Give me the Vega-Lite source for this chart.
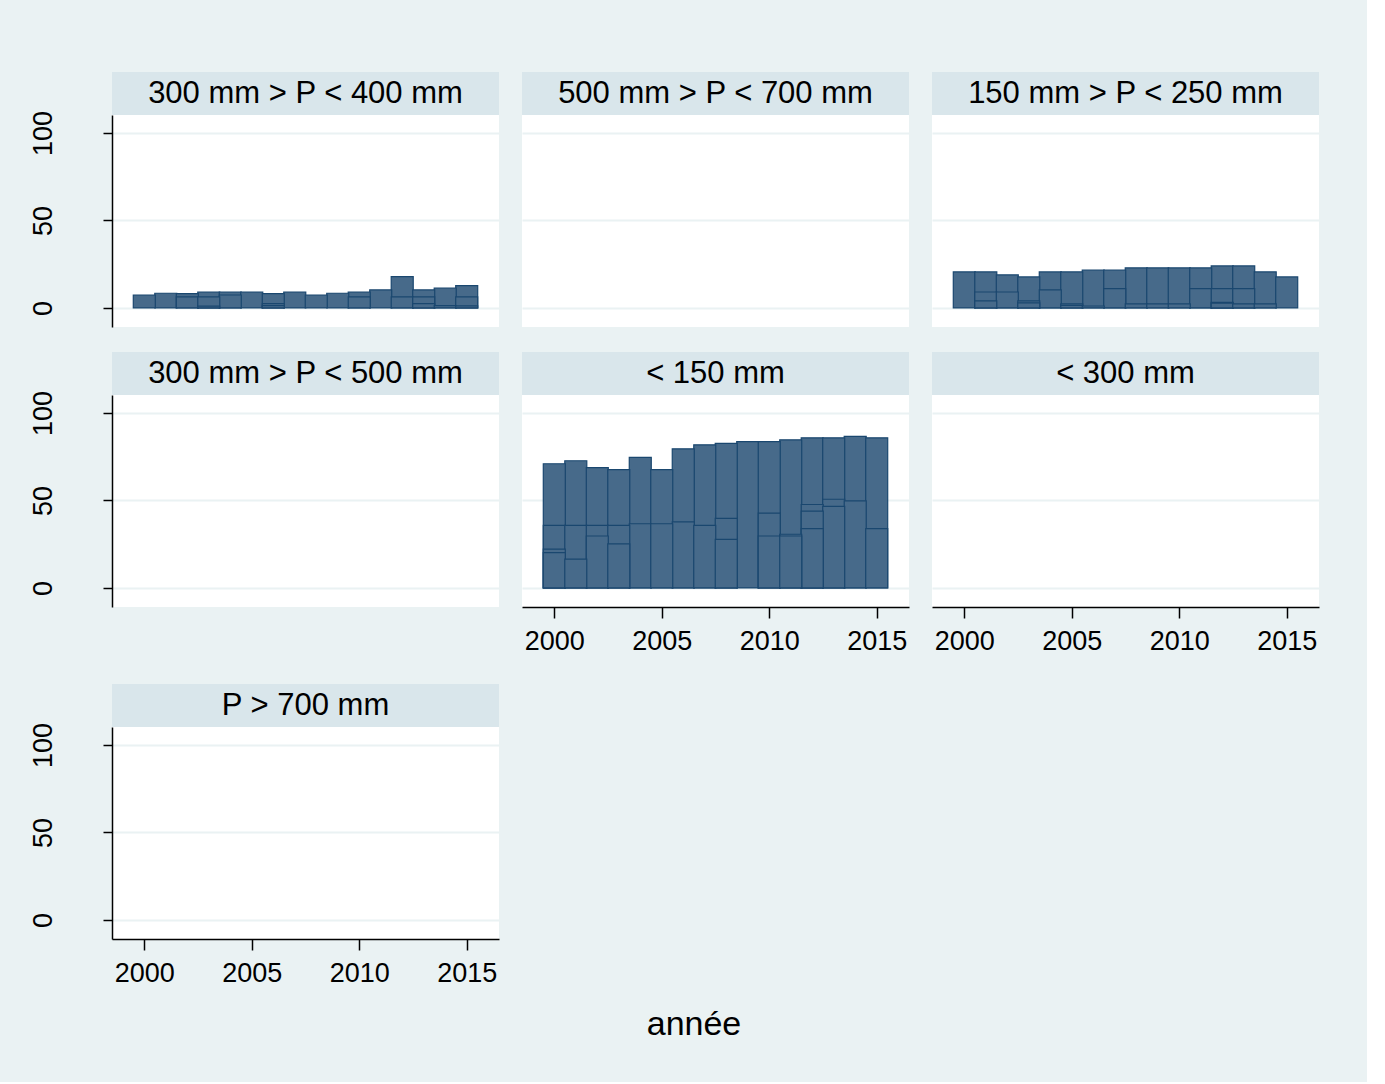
{
  "$schema": "https://vega.github.io/schema/vega-lite/v6.json",
  "background": "#EAF2F3",
  "padding": {"left": 28, "top": 72, "right": 48, "bottom": 40},
  "title": {"text": "année", "orient": "bottom", "anchor": "middle", "fontSize": 34, "font": "Liberation Sans", "fontWeight": "normal", "color": "#000000", "offset": 22, "dx": 20},
  "datasets": {
    "bars": [
      {"panel": "300 mm > P < 400 mm", "year": 2000, "value": 7.4},
      {"panel": "300 mm > P < 400 mm", "year": 2001, "value": 8.4},
      {"panel": "300 mm > P < 400 mm", "year": 2002, "value": 8.2},
      {"panel": "300 mm > P < 400 mm", "year": 2002, "value": 6.3},
      {"panel": "300 mm > P < 400 mm", "year": 2003, "value": 9.1},
      {"panel": "300 mm > P < 400 mm", "year": 2003, "value": 6.3},
      {"panel": "300 mm > P < 400 mm", "year": 2003, "value": 1.0},
      {"panel": "300 mm > P < 400 mm", "year": 2004, "value": 9.1},
      {"panel": "300 mm > P < 400 mm", "year": 2004, "value": 7.4},
      {"panel": "300 mm > P < 400 mm", "year": 2005, "value": 9.1},
      {"panel": "300 mm > P < 400 mm", "year": 2006, "value": 8.2},
      {"panel": "300 mm > P < 400 mm", "year": 2006, "value": 2.5},
      {"panel": "300 mm > P < 400 mm", "year": 2006, "value": 1.3},
      {"panel": "300 mm > P < 400 mm", "year": 2007, "value": 9.1},
      {"panel": "300 mm > P < 400 mm", "year": 2008, "value": 7.4},
      {"panel": "300 mm > P < 400 mm", "year": 2009, "value": 8.4},
      {"panel": "300 mm > P < 400 mm", "year": 2010, "value": 9.1},
      {"panel": "300 mm > P < 400 mm", "year": 2010, "value": 6.3},
      {"panel": "300 mm > P < 400 mm", "year": 2011, "value": 10.3},
      {"panel": "300 mm > P < 400 mm", "year": 2012, "value": 17.9},
      {"panel": "300 mm > P < 400 mm", "year": 2012, "value": 6.3},
      {"panel": "300 mm > P < 400 mm", "year": 2013, "value": 10.3},
      {"panel": "300 mm > P < 400 mm", "year": 2013, "value": 6.3},
      {"panel": "300 mm > P < 400 mm", "year": 2013, "value": 2.5},
      {"panel": "300 mm > P < 400 mm", "year": 2014, "value": 11.4},
      {"panel": "300 mm > P < 400 mm", "year": 2014, "value": 1.3},
      {"panel": "300 mm > P < 400 mm", "year": 2015, "value": 12.7},
      {"panel": "300 mm > P < 400 mm", "year": 2015, "value": 6.3},
      {"panel": "300 mm > P < 400 mm", "year": 2015, "value": 1.2},
      {"panel": "150 mm > P < 250 mm", "year": 2000, "value": 20.6},
      {"panel": "150 mm > P < 250 mm", "year": 2001, "value": 20.6},
      {"panel": "150 mm > P < 250 mm", "year": 2001, "value": 9.1},
      {"panel": "150 mm > P < 250 mm", "year": 2001, "value": 4.0},
      {"panel": "150 mm > P < 250 mm", "year": 2002, "value": 18.9},
      {"panel": "150 mm > P < 250 mm", "year": 2002, "value": 9.1},
      {"panel": "150 mm > P < 250 mm", "year": 2003, "value": 17.7},
      {"panel": "150 mm > P < 250 mm", "year": 2003, "value": 4.0},
      {"panel": "150 mm > P < 250 mm", "year": 2003, "value": 2.9},
      {"panel": "150 mm > P < 250 mm", "year": 2004, "value": 20.6},
      {"panel": "150 mm > P < 250 mm", "year": 2004, "value": 10.3},
      {"panel": "150 mm > P < 250 mm", "year": 2005, "value": 20.6},
      {"panel": "150 mm > P < 250 mm", "year": 2005, "value": 2.3},
      {"panel": "150 mm > P < 250 mm", "year": 2005, "value": 1.5},
      {"panel": "150 mm > P < 250 mm", "year": 2006, "value": 21.7},
      {"panel": "150 mm > P < 250 mm", "year": 2006, "value": 1.1},
      {"panel": "150 mm > P < 250 mm", "year": 2007, "value": 21.7},
      {"panel": "150 mm > P < 250 mm", "year": 2007, "value": 11.0},
      {"panel": "150 mm > P < 250 mm", "year": 2008, "value": 22.9},
      {"panel": "150 mm > P < 250 mm", "year": 2008, "value": 2.3},
      {"panel": "150 mm > P < 250 mm", "year": 2009, "value": 22.9},
      {"panel": "150 mm > P < 250 mm", "year": 2009, "value": 2.3},
      {"panel": "150 mm > P < 250 mm", "year": 2010, "value": 22.9},
      {"panel": "150 mm > P < 250 mm", "year": 2010, "value": 2.3},
      {"panel": "150 mm > P < 250 mm", "year": 2011, "value": 22.9},
      {"panel": "150 mm > P < 250 mm", "year": 2011, "value": 11.0},
      {"panel": "150 mm > P < 250 mm", "year": 2012, "value": 24.0},
      {"panel": "150 mm > P < 250 mm", "year": 2012, "value": 11.0},
      {"panel": "150 mm > P < 250 mm", "year": 2012, "value": 3.2},
      {"panel": "150 mm > P < 250 mm", "year": 2012, "value": 2.7},
      {"panel": "150 mm > P < 250 mm", "year": 2013, "value": 24.0},
      {"panel": "150 mm > P < 250 mm", "year": 2013, "value": 11.0},
      {"panel": "150 mm > P < 250 mm", "year": 2013, "value": 2.3},
      {"panel": "150 mm > P < 250 mm", "year": 2014, "value": 20.6},
      {"panel": "150 mm > P < 250 mm", "year": 2014, "value": 2.3},
      {"panel": "150 mm > P < 250 mm", "year": 2015, "value": 17.7},
      {"panel": "< 150 mm", "year": 2000, "value": 71.0},
      {"panel": "< 150 mm", "year": 2000, "value": 35.8},
      {"panel": "< 150 mm", "year": 2000, "value": 22.2},
      {"panel": "< 150 mm", "year": 2000, "value": 20.2},
      {"panel": "< 150 mm", "year": 2001, "value": 72.7},
      {"panel": "< 150 mm", "year": 2001, "value": 35.8},
      {"panel": "< 150 mm", "year": 2001, "value": 16.5},
      {"panel": "< 150 mm", "year": 2002, "value": 68.8},
      {"panel": "< 150 mm", "year": 2002, "value": 35.8},
      {"panel": "< 150 mm", "year": 2002, "value": 29.7},
      {"panel": "< 150 mm", "year": 2003, "value": 67.6},
      {"panel": "< 150 mm", "year": 2003, "value": 35.8},
      {"panel": "< 150 mm", "year": 2003, "value": 25.2},
      {"panel": "< 150 mm", "year": 2004, "value": 74.6},
      {"panel": "< 150 mm", "year": 2004, "value": 36.7},
      {"panel": "< 150 mm", "year": 2005, "value": 67.6},
      {"panel": "< 150 mm", "year": 2005, "value": 36.7},
      {"panel": "< 150 mm", "year": 2006, "value": 79.5},
      {"panel": "< 150 mm", "year": 2006, "value": 37.8},
      {"panel": "< 150 mm", "year": 2007, "value": 81.8},
      {"panel": "< 150 mm", "year": 2007, "value": 35.8},
      {"panel": "< 150 mm", "year": 2008, "value": 82.7},
      {"panel": "< 150 mm", "year": 2008, "value": 39.8},
      {"panel": "< 150 mm", "year": 2008, "value": 27.8},
      {"panel": "< 150 mm", "year": 2009, "value": 83.7},
      {"panel": "< 150 mm", "year": 2010, "value": 83.7},
      {"panel": "< 150 mm", "year": 2010, "value": 42.8},
      {"panel": "< 150 mm", "year": 2010, "value": 29.7},
      {"panel": "< 150 mm", "year": 2011, "value": 84.7},
      {"panel": "< 150 mm", "year": 2011, "value": 30.7},
      {"panel": "< 150 mm", "year": 2011, "value": 29.7},
      {"panel": "< 150 mm", "year": 2012, "value": 85.8},
      {"panel": "< 150 mm", "year": 2012, "value": 47.7},
      {"panel": "< 150 mm", "year": 2012, "value": 43.9},
      {"panel": "< 150 mm", "year": 2012, "value": 33.9},
      {"panel": "< 150 mm", "year": 2013, "value": 85.8},
      {"panel": "< 150 mm", "year": 2013, "value": 50.7},
      {"panel": "< 150 mm", "year": 2013, "value": 46.6},
      {"panel": "< 150 mm", "year": 2014, "value": 86.7},
      {"panel": "< 150 mm", "year": 2014, "value": 49.8},
      {"panel": "< 150 mm", "year": 2015, "value": 85.8},
      {"panel": "< 150 mm", "year": 2015, "value": 33.9}
    ]
  },
  "spacing": 30,
  "vconcat": [
    {
      "spacing": 25,
      "vconcat": [
        {
          "spacing": 23,
          "hconcat": [
            {
              "bounds": "flush", "spacing": 0,
              "vconcat": [
                {"width": 387, "height": 43, "view": {"fill": "#D9E6EB", "stroke": null}, "data": {"values": [{"panel": "300 mm > P < 400 mm"}]}, "mark": {"type": "text", "fontSize": 31, "font": "Liberation Sans", "baseline": "middle", "align": "center", "color": "#000000"}, "encoding": {"text": {"field": "panel"}}},
                {"width": 387, "height": 212, "data": {"name": "bars"}, "transform": [{"filter": {"field": "panel", "equal": "300 mm > P < 400 mm"}}],
                  "mark": {"type": "bar", "width": 22, "fill": "#476A8A", "stroke": "#1A476F", "strokeWidth": 1.2},
                  "encoding": {
                    "x": {"field": "year", "type": "quantitative", "scale": {"domain": [1998.73, 2016.27], "nice": false, "zero": false}, "axis": null},
                    "y": {"field": "value", "type": "quantitative", "stack": null, "scale": {"domain": [-10.9, 110.3], "nice": false, "zero": false}, "axis": {"values": [0, 50, 100], "title": null, "grid": true, "labelAngle": -90, "labelAlign": "center", "labelBaseline": "alphabetic", "labelPadding": 52}},
                    "y2": {"datum": 0},
                    "order": {"field": "value", "sort": "descending"}}}
              ]
            },
            {
              "bounds": "flush", "spacing": 0,
              "vconcat": [
                {"width": 387, "height": 43, "view": {"fill": "#D9E6EB", "stroke": null}, "data": {"values": [{"panel": "500 mm > P < 700 mm"}]}, "mark": {"type": "text", "fontSize": 31, "font": "Liberation Sans", "baseline": "middle", "align": "center", "color": "#000000"}, "encoding": {"text": {"field": "panel"}}},
                {"width": 387, "height": 212, "data": {"name": "bars"}, "transform": [{"filter": {"field": "panel", "equal": "500 mm > P < 700 mm"}}],
                  "mark": {"type": "bar", "width": 22, "fill": "#476A8A", "stroke": "#1A476F", "strokeWidth": 1.2},
                  "encoding": {
                    "x": {"field": "year", "type": "quantitative", "scale": {"domain": [1998.73, 2016.27], "nice": false, "zero": false}, "axis": null},
                    "y": {"field": "value", "type": "quantitative", "stack": null, "scale": {"domain": [-10.9, 110.3], "nice": false, "zero": false}, "axis": {"values": [0, 50, 100], "title": null, "grid": true, "labels": false, "ticks": false, "domain": false}},
                    "y2": {"datum": 0},
                    "order": {"field": "value", "sort": "descending"}}}
              ]
            },
            {
              "bounds": "flush", "spacing": 0,
              "vconcat": [
                {"width": 387, "height": 43, "view": {"fill": "#D9E6EB", "stroke": null}, "data": {"values": [{"panel": "150 mm > P < 250 mm"}]}, "mark": {"type": "text", "fontSize": 31, "font": "Liberation Sans", "baseline": "middle", "align": "center", "color": "#000000"}, "encoding": {"text": {"field": "panel"}}},
                {"width": 387, "height": 212, "data": {"name": "bars"}, "transform": [{"filter": {"field": "panel", "equal": "150 mm > P < 250 mm"}}],
                  "mark": {"type": "bar", "width": 22, "fill": "#476A8A", "stroke": "#1A476F", "strokeWidth": 1.2},
                  "encoding": {
                    "x": {"field": "year", "type": "quantitative", "scale": {"domain": [1998.73, 2016.27], "nice": false, "zero": false}, "axis": null},
                    "y": {"field": "value", "type": "quantitative", "stack": null, "scale": {"domain": [-10.9, 110.3], "nice": false, "zero": false}, "axis": {"values": [0, 50, 100], "title": null, "grid": true, "labels": false, "ticks": false, "domain": false}},
                    "y2": {"datum": 0},
                    "order": {"field": "value", "sort": "descending"}}}
              ]
            }
          ]
        },
        {
          "spacing": 23,
          "hconcat": [
            {
              "bounds": "flush", "spacing": 0,
              "vconcat": [
                {"width": 387, "height": 43, "view": {"fill": "#D9E6EB", "stroke": null}, "data": {"values": [{"panel": "300 mm > P < 500 mm"}]}, "mark": {"type": "text", "fontSize": 31, "font": "Liberation Sans", "baseline": "middle", "align": "center", "color": "#000000"}, "encoding": {"text": {"field": "panel"}}},
                {"width": 387, "height": 212, "data": {"name": "bars"}, "transform": [{"filter": {"field": "panel", "equal": "300 mm > P < 500 mm"}}],
                  "mark": {"type": "bar", "width": 22, "fill": "#476A8A", "stroke": "#1A476F", "strokeWidth": 1.2},
                  "encoding": {
                    "x": {"field": "year", "type": "quantitative", "scale": {"domain": [1998.73, 2016.27], "nice": false, "zero": false}, "axis": null},
                    "y": {"field": "value", "type": "quantitative", "stack": null, "scale": {"domain": [-10.9, 110.3], "nice": false, "zero": false}, "axis": {"values": [0, 50, 100], "title": null, "grid": true, "labelAngle": -90, "labelAlign": "center", "labelBaseline": "alphabetic", "labelPadding": 52}},
                    "y2": {"datum": 0},
                    "order": {"field": "value", "sort": "descending"}}}
              ]
            },
            {
              "bounds": "flush", "spacing": 0,
              "vconcat": [
                {"width": 387, "height": 43, "view": {"fill": "#D9E6EB", "stroke": null}, "data": {"values": [{"panel": "< 150 mm"}]}, "mark": {"type": "text", "fontSize": 31, "font": "Liberation Sans", "baseline": "middle", "align": "center", "color": "#000000"}, "encoding": {"text": {"field": "panel"}}},
                {"width": 387, "height": 212, "data": {"name": "bars"}, "transform": [{"filter": {"field": "panel", "equal": "< 150 mm"}}],
                  "mark": {"type": "bar", "width": 22, "fill": "#476A8A", "stroke": "#1A476F", "strokeWidth": 1.2},
                  "encoding": {
                    "x": {"field": "year", "type": "quantitative", "scale": {"domain": [1998.73, 2016.27], "nice": false, "zero": false}, "axis": {"values": [2000, 2005, 2010, 2015], "format": "d", "title": null, "grid": false}},
                    "y": {"field": "value", "type": "quantitative", "stack": null, "scale": {"domain": [-10.9, 110.3], "nice": false, "zero": false}, "axis": {"values": [0, 50, 100], "title": null, "grid": true, "labels": false, "ticks": false, "domain": false}},
                    "y2": {"datum": 0},
                    "order": {"field": "value", "sort": "descending"}}}
              ]
            },
            {
              "bounds": "flush", "spacing": 0,
              "vconcat": [
                {"width": 387, "height": 43, "view": {"fill": "#D9E6EB", "stroke": null}, "data": {"values": [{"panel": "< 300 mm"}]}, "mark": {"type": "text", "fontSize": 31, "font": "Liberation Sans", "baseline": "middle", "align": "center", "color": "#000000"}, "encoding": {"text": {"field": "panel"}}},
                {"width": 387, "height": 212, "data": {"name": "bars"}, "transform": [{"filter": {"field": "panel", "equal": "< 300 mm"}}],
                  "mark": {"type": "bar", "width": 22, "fill": "#476A8A", "stroke": "#1A476F", "strokeWidth": 1.2},
                  "encoding": {
                    "x": {"field": "year", "type": "quantitative", "scale": {"domain": [1998.73, 2016.27], "nice": false, "zero": false}, "axis": {"values": [2000, 2005, 2010, 2015], "format": "d", "title": null, "grid": false}},
                    "y": {"field": "value", "type": "quantitative", "stack": null, "scale": {"domain": [-10.9, 110.3], "nice": false, "zero": false}, "axis": {"values": [0, 50, 100], "title": null, "grid": true, "labels": false, "ticks": false, "domain": false}},
                    "y2": {"datum": 0},
                    "order": {"field": "value", "sort": "descending"}}}
              ]
            }
          ]
        }
      ]
    },
    {
      "spacing": 23,
      "hconcat": [
        {
          "bounds": "flush", "spacing": 0,
          "vconcat": [
            {"width": 387, "height": 43, "view": {"fill": "#D9E6EB", "stroke": null}, "data": {"values": [{"panel": "P > 700 mm"}]}, "mark": {"type": "text", "fontSize": 31, "font": "Liberation Sans", "baseline": "middle", "align": "center", "color": "#000000"}, "encoding": {"text": {"field": "panel"}}},
            {"width": 387, "height": 212, "data": {"name": "bars"}, "transform": [{"filter": {"field": "panel", "equal": "P > 700 mm"}}],
              "mark": {"type": "bar", "width": 22, "fill": "#476A8A", "stroke": "#1A476F", "strokeWidth": 1.2},
              "encoding": {
                "x": {"field": "year", "type": "quantitative", "scale": {"domain": [1998.73, 2016.27], "nice": false, "zero": false}, "axis": {"values": [2000, 2005, 2010, 2015], "format": "d", "title": null, "grid": false}},
                "y": {"field": "value", "type": "quantitative", "stack": null, "scale": {"domain": [-10.9, 110.3], "nice": false, "zero": false}, "axis": {"values": [0, 50, 100], "title": null, "grid": true, "labelAngle": -90, "labelAlign": "center", "labelBaseline": "alphabetic", "labelPadding": 52}},
                "y2": {"datum": 0},
                "order": {"field": "value", "sort": "descending"}}}
          ]
        }
      ]
    }
  ],
  "config": {
    "view": {"fill": "#FFFFFF", "stroke": null},
    "axis": {"labelFont": "Liberation Sans", "labelFontSize": 27, "labelColor": "#000000", "domainColor": "#000000", "domainWidth": 1.5, "tickColor": "#000000", "tickWidth": 1.5, "gridColor": "#EAF2F3", "gridWidth": 2},
    "axisX": {"tickSize": 11, "labelPadding": 10},
    "axisY": {"tickSize": 9}
  }
}
